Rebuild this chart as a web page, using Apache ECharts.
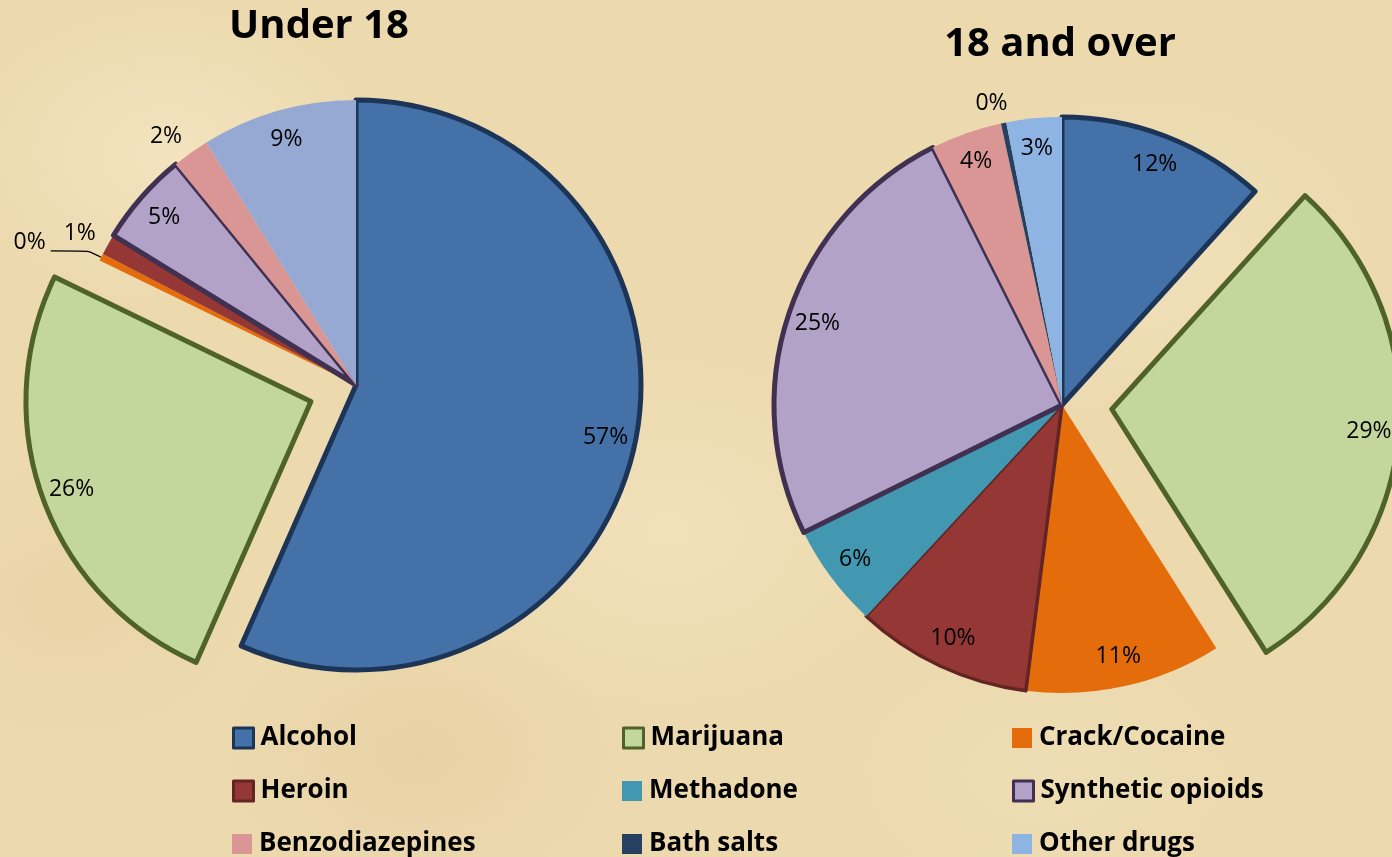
<!DOCTYPE html>
<html>
<head>
<meta charset="utf-8">
<title>Substance use by age group</title>
<script src="https://cdn.jsdelivr.net/npm/echarts@6/dist/echarts.min.js"></script>
<style>
  html, body { margin: 0; padding: 0; }
  body {
    width: 1392px; height: 857px; overflow: hidden;
    background-color: #ECD9AE;
    background-image:
      radial-gradient(ellipse 300px 220px at 12% 18%, rgba(248,236,205,0.55), rgba(248,236,205,0) 70%),
      radial-gradient(ellipse 360px 260px at 48% 62%, rgba(246,232,198,0.5), rgba(246,232,198,0) 70%),
      radial-gradient(ellipse 340px 240px at 82% 30%, rgba(244,230,196,0.5), rgba(244,230,196,0) 70%),
      radial-gradient(ellipse 280px 200px at 30% 88%, rgba(226,202,154,0.45), rgba(226,202,154,0) 70%),
      radial-gradient(ellipse 300px 200px at 75% 90%, rgba(240,224,186,0.5), rgba(240,224,186,0) 70%),
      radial-gradient(ellipse 260px 200px at 5% 70%, rgba(228,205,158,0.4), rgba(228,205,158,0) 70%);
  }
  #chart { width: 1392px; height: 857px; }
</style>
</head>
<body>
<div id="chart"></div>
<script>
// Share of clients by primary substance, two age groups
const categories = ['Alcohol', 'Marijuana', 'Crack/Cocaine', 'Heroin', 'Methadone',
  'Synthetic opioids', 'Benzodiazepines', 'Bath salts', 'Other drugs'];
const under18 = [56.6, 25.6, 0.4, 1.2, 0, 5.3, 2.1, 0, 8.8];
const over18 = [11.7, 29.3, 11.0, 9.9, 5.8, 24.9, 4.0, 0.3, 3.1];
const groupTitles = ['Under 18', '18 and over'];
const explodedCategory = 'Marijuana';

// Slice styling per category
const fills = {
  'Alcohol': '#4472A8', 'Marijuana': '#C3D69B', 'Crack/Cocaine': '#E46C0A',
  'Heroin': '#953735', 'Methadone': '#4298B0', 'Synthetic opioids': '#B3A2C7',
  'Benzodiazepines': '#D99694', 'Bath salts': '#254061', 'Other drugs': '#8EB4E3'
};
const outlines = {
  'Alcohol': ['#1C3557', 5], 'Marijuana': ['#4F6228', 5],
  'Heroin': ['#632523', 3.5], 'Synthetic opioids': ['#403152', 5]
};

const FONT = '"Open Sans", "Noto Sans", sans-serif';

function sliceStyle(name, group) {
  let color = fills[name];
  if (group === 0 && name === 'Other drugs') color = '#95A9D2';
  const o = outlines[name];
  let border = o ? o : [color, 0];
  if (group === 0 && name === 'Heroin') border = [color, 0];
  return { color: color, borderColor: border[0], borderWidth: border[1] };
}

// Labels that sit outside their slice: [group, category] -> label settings
const outsideLabels = {
  '0|Crack/Cocaine': { length: 14, length2: 38, line: true, raise: 8 },
  '0|Heroin': { length: 22, length2: -12 },
  '0|Benzodiazepines': { length: 20, length2: -8 },
  '1|Bath salts': { length: 20, length2: -13 }
};

function buildData(values, group, forLabels) {
  const out = [];
  values.forEach(function (v, i) {
    if (!(v > 0)) return;
    const name = categories[i];
    const st = sliceStyle(name, group);
    const item = { name: name, value: v, selected: name === explodedCategory };
    if (forLabels) {
      item.itemStyle = { color: 'rgba(0,0,0,0)', borderWidth: 0 };
      const ol = outsideLabels[group + '|' + name];
      if (ol) {
        item.label = { position: 'outside' };
        item.labelLine = {
          show: !!ol.line, length: ol.length, length2: ol.length2, smooth: 0.2,
          lineStyle: { color: '#000', width: 1.3 }
        };
      }
    } else {
      item.itemStyle = st;
      item.select = { itemStyle: st };
    }
    out.push(item);
  });
  return out;
}

const centers = [[356, 385], [1062, 405]];
const radii = [285, 288];
const labelInner = [219, 222];
const offsets = [48, 50];
const datasets = [under18, over18];

const series = [];
// Slices
datasets.forEach(function (vals, g) {
  series.push({
    type: 'pie', name: groupTitles[g], center: centers[g], radius: [0, radii[g]],
    startAngle: 90, clockwise: true, selectedMode: 'multiple', selectedOffset: offsets[g],
    avoidLabelOverlap: false, animation: false,
    label: { show: false }, labelLine: { show: false },
    emphasis: { disabled: true },
    data: buildData(vals, g, false)
  });
});
// Percentage labels placed near the rim
datasets.forEach(function (vals, g) {
  const data = buildData(vals, g, true);
  series.push({
    type: 'pie', name: groupTitles[g] + ' labels', center: centers[g],
    radius: [labelInner[g], radii[g]], silent: true,
    startAngle: 90, clockwise: true, selectedMode: 'multiple', selectedOffset: offsets[g],
    avoidLabelOverlap: false, animation: false,
    emphasis: { disabled: true },
    label: {
      show: true, position: 'inside', color: '#000', fontFamily: FONT, fontSize: 23,
      formatter: function (p) { return Math.round(p.percent) + '%'; }
    },
    labelLine: { show: false },
    // lift a leader-lined label slightly above the end of its line
    labelLayout: function (p) {
      const d = data[p.dataIndex];
      const ol = d && outsideLabels[g + '|' + d.name];
      return ol && ol.raise ? { dy: -ol.raise } : {};
    },
    data: data
  });
});

// Legend: a 3 x 3 grid, one legend per cell
const legendCols = [232, 622, 1012];
const legendRows = [725, 778, 831];
const legends = [];
categories.forEach(function (n, i) {
  const o = outlines[n];
  legends.push({
    left: legendCols[i % 3], top: legendRows[Math.floor(i / 3)], padding: 0,
    itemWidth: 20, itemHeight: 20, icon: 'rect', selectedMode: false,
    textStyle: { fontFamily: FONT, fontWeight: 'bold', fontSize: 26, color: '#000',
      lineHeight: 26, padding: [0, 0, 0, 2] },
    data: [{ name: n, itemStyle: { color: fills[n], borderColor: o ? o[0] : fills[n], borderWidth: o ? 3 : 0 } }]
  });
});

const chart = echarts.init(document.getElementById('chart'), null, { renderer: 'canvas' });
chart.setOption({
  backgroundColor: 'transparent',
  animation: false,
  legend: legends,
  graphic: [
    { type: 'text', x: 319, y: 27, style: { text: groupTitles[0], align: 'center', verticalAlign: 'middle',
      fontFamily: FONT, fontWeight: 'bold', fontSize: 40, fill: '#000' } },
    { type: 'text', x: 1060, y: 45, style: { text: groupTitles[1], align: 'center', verticalAlign: 'middle',
      fontFamily: FONT, fontWeight: 'bold', fontSize: 40, fill: '#000' } }
  ],
  series: series
});
</script>
</body>
</html>
